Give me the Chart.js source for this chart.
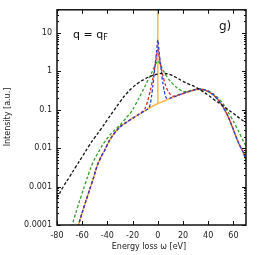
<!DOCTYPE html>
<html>
<head>
<meta charset="utf-8">
<script src="https://cdn.jsdelivr.net/npm/chart.js@4/dist/chart.umd.min.js"></script>
<style>
  html, body { margin: 0; padding: 0; background: #fff; }
  #wrap { width: 262px; height: 255px; }
</style>
</head>
<body>
<div id="wrap"><canvas id="c" width="262" height="255"></canvas></div>
<script>
// tick positions / labels
const xTicks = [-80, -60, -40, -20, 0, 20, 40, 60];
const yTicks = [0.0001, 0.001, 0.01, 0.1, 1, 10];
const yTickLabels = ["0.0001", "0.001", "0.01", "0.1", "1", "10"];

// black dashed (broad)
const blackX = [-80, -75, -70, -65, -60, -55, -50, -45, -40, -35, -30, -25, -20, -15, -10, -5, 0, 5, 10, 15, 20, 25, 30, 35, 40, 45, 50, 55, 60, 65, 70];
const blackY = [5e-4, 1.0e-3, 1.8e-3, 3.3e-3, 6.0e-3, 0.011, 0.019, 0.032, 0.055, 0.095, 0.16, 0.26, 0.38, 0.51, 0.64, 0.76, 0.85, 0.88, 0.82, 0.68, 0.55, 0.46, 0.39, 0.31, 0.24, 0.18, 0.14, 0.105, 0.08, 0.06, 0.046];

// orange solid (elastic delta at 0)
const orangeX = [-66, -63, -60, -57, -54, -51, -48, -45, -42, -39, -36, -33, -30, -25, -20, -15, -10, -5, 0, 0, 0, 5, 10, 15, 20, 25, 30, 33, 36, 40, 44, 48, 52, 56, 60, 64, 68, 71];
const orangeY = [5e-5, 1.0e-4, 2.1e-4, 4.3e-4, 8.5e-4, 1.7e-3, 3.6e-3, 6.0e-3, 9.0e-3, 0.0145, 0.021, 0.028, 0.036, 0.047, 0.06, 0.076, 0.095, 0.12, 0.145, 1000, 0.145, 0.17, 0.2, 0.23, 0.265, 0.3, 0.335, 0.345, 0.335, 0.3, 0.245, 0.18, 0.115, 0.065, 0.03, 0.014, 0.0075, 0.004];

// blue dashed (narrow peak)
const blueX = [-66, -63, -60, -57, -54, -51, -48, -45, -42, -39, -36, -33, -30, -25, -20, -15, -10, -7, -6, -5, -4, -3, -2, -1, 0, 1, 2, 3, 4, 5, 6, 7, 10, 15, 20, 25, 30, 33, 36, 40, 44, 48, 52, 56, 60, 64, 68, 71];
const blueY = [5e-5, 1.0e-4, 2.1e-4, 4.3e-4, 8.5e-4, 1.7e-3, 3.6e-3, 6.0e-3, 9.0e-3, 0.0145, 0.021, 0.028, 0.036, 0.047, 0.06, 0.076, 0.095, 0.112, 0.14, 0.22, 0.4, 0.8, 1.6, 3.2, 6.6, 3.3, 1.7, 0.9, 0.5, 0.32, 0.23, 0.2, 0.2, 0.23, 0.265, 0.3, 0.335, 0.345, 0.335, 0.3, 0.245, 0.18, 0.115, 0.065, 0.03, 0.014, 0.0075, 0.004];

// red dashed (medium peak)
const redX = [-66, -63, -60, -57, -54, -51, -48, -45, -42, -39, -36, -33, -30, -25, -20, -15, -12, -10, -8, -6, -4, -2, 0, 2, 4, 6, 8, 10, 12, 15, 20, 25, 30, 33, 36, 40, 44, 48, 52, 56, 60, 64, 68, 71];
const redY = [5e-5, 1.0e-4, 2.1e-4, 4.3e-4, 8.5e-4, 1.7e-3, 3.6e-3, 6.0e-3, 9.0e-3, 0.0145, 0.021, 0.028, 0.036, 0.047, 0.06, 0.076, 0.09, 0.11, 0.17, 0.31, 0.63, 1.5, 3.6, 1.6, 0.78, 0.45, 0.31, 0.25, 0.225, 0.235, 0.265, 0.3, 0.335, 0.345, 0.335, 0.3, 0.245, 0.18, 0.115, 0.065, 0.03, 0.014, 0.0075, 0.004];

// green dashed (broad peak, shifted tails)
const greenX = [-71, -68, -65, -62, -59, -56, -53, -50, -47, -44, -41, -38, -35, -30, -25, -22, -20, -15, -10, -5, 0, 5, 10, 15, 20, 25, 30, 33, 36, 40, 44, 48, 52, 56, 60, 64, 68, 71];
const greenY = [5e-5, 1.0e-4, 2.1e-4, 4.3e-4, 8.5e-4, 1.7e-3, 3.2e-3, 5.4e-3, 8.0e-3, 0.012, 0.0165, 0.022, 0.028, 0.04, 0.062, 0.08, 0.1, 0.2, 0.42, 0.9, 1.85, 0.95, 0.55, 0.38, 0.3, 0.31, 0.34, 0.35, 0.34, 0.31, 0.26, 0.2, 0.14, 0.085, 0.05, 0.028, 0.015, 0.01];

const pts = (xs, ys) => xs.map((x, i) => ({ x, y: ys[i] }));

const frame = {
  id: "frame",
  afterDatasetsDraw(chart) {
    const { ctx, chartArea: a, scales: { x, y } } = chart;
    ctx.save();
    ctx.strokeStyle = "#111";
    ctx.lineWidth = 1;
    ctx.beginPath();
    xTicks.forEach((v) => {
      const px = Math.round(x.getPixelForValue(v)) + 0.5;
      ctx.moveTo(px, a.bottom); ctx.lineTo(px, a.bottom - 4);
      ctx.moveTo(px, a.top); ctx.lineTo(px, a.top + 4);
    });
    yTicks.forEach((v) => {
      for (let m = 1; m <= 9; m++) {
        const val = v * m;
        if (val > y.max) break;
        const py = Math.round(y.getPixelForValue(val)) + 0.5;
        const len = m === 1 ? 4 : 2;
        ctx.moveTo(a.left, py); ctx.lineTo(a.left + len, py);
        ctx.moveTo(a.right, py); ctx.lineTo(a.right - len, py);
      }
    });
    ctx.stroke();
    ctx.lineWidth = 1.5;
    ctx.strokeRect(a.left, a.top, a.right - a.left, a.bottom - a.top);

    ctx.fillStyle = "#222";
    ctx.textBaseline = "middle";
    ctx.font = "8px 'DejaVu Sans'";
    ctx.textAlign = "center";
    ctx.fillText("Energy loss ω [eV]", 149, 247);
    ctx.save();
    ctx.translate(8, 117);
    ctx.rotate(-Math.PI / 2);
    ctx.fillText("Intensity [a.u.]", 0, 0);
    ctx.restore();

    ctx.fillStyle = "#111";
    ctx.textAlign = "left";
    ctx.font = "11px 'DejaVu Sans'";
    ctx.fillText("q = q", 73, 35);
    const w = ctx.measureText("q = q").width;
    ctx.font = "8px 'DejaVu Sans'";
    ctx.fillText("F", 73 + w, 38);
    ctx.font = "12px 'DejaVu Sans'";
    ctx.fillText("g)", 219, 27);
    ctx.restore();
  },
};

const dashed = (label, xs, ys, color, tension) => ({
  label, data: pts(xs, ys), borderColor: color, borderWidth: 1.3,
  borderDash: [3, 2], pointRadius: 0, tension, fill: false,
});

// dataset 0 is drawn on top in Chart.js
new Chart(document.getElementById("c"), {
  type: "line",
  data: {
    datasets: [
      dashed("black", blackX, blackY, "#111", 0.4),
      dashed("blue", blueX, blueY, "#2a3fd8", 0.25),
      dashed("red", redX, redY, "#e0262b", 0.25),
      dashed("green", greenX, greenY, "#33a02c", 0.25),
      { label: "orange", data: pts(orangeX, orangeY), borderColor: "rgba(250,185,70,0.95)", borderWidth: 1.6, pointRadius: 0, tension: 0, fill: false },
    ],
  },
  options: {
    responsive: false,
    animation: false,
    layout: { padding: { top: 9, right: 16, left: 0, bottom: 0 } },
    plugins: { legend: { display: false }, tooltip: { enabled: false } },
    scales: {
      x: {
        type: "linear", min: -80, max: 70,
        afterBuildTicks: (s) => { s.ticks = xTicks.map((v) => ({ value: v })); },
        afterFit: (s) => { s.height = 30; },
        grid: { display: false, drawTicks: false },
        border: { display: false },
        ticks: { color: "#222", font: { family: "DejaVu Sans", size: 8 }, padding: 6, maxRotation: 0 },
      },
      y: {
        type: "logarithmic", min: 1e-4, max: 40,
        afterBuildTicks: (s) => { s.ticks = yTicks.map((v) => ({ value: v })); },
        afterFit: (s) => { s.width = 57; },
        grid: { display: false, drawTicks: false },
        border: { display: false },
        ticks: {
          color: "#222", font: { family: "DejaVu Sans", size: 8 }, padding: 5,
          callback: (v) => yTickLabels[yTicks.indexOf(v)] ?? "",
        },
      },
    },
  },
  plugins: [frame],
});
</script>
</body>
</html>
